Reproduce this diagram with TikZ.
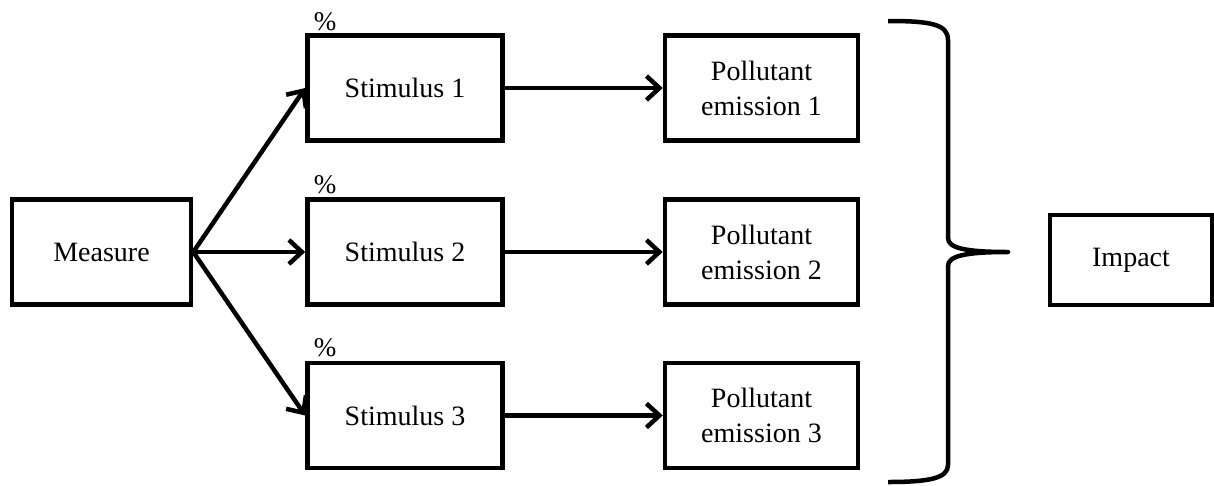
\documentclass[tikz,border=0pt]{standalone}
\usepackage{fontspec}
\setmainfont{Liberation Serif}
\usetikzlibrary{arrows.meta}
\begin{document}
\begin{tikzpicture}[x=1pt,y=-1pt,
  box/.style={draw, line width=4.5pt, align=center, inner sep=0pt,
    font=\fontsize{28}{35}\selectfont},
  conn/.style={line width=4.5pt, -{Straight Barb[length=13pt,width=24pt,line width=4.5pt]}},
  pct/.style={font=\fontsize{27}{30}\selectfont, inner sep=0pt}]
\useasboundingbox (0,0) rectangle (1214,485);
\node[box, minimum width=179pt, minimum height=105pt] (m) at (101.5,252) {Measure};
\node[box, minimum width=195pt, minimum height=105pt] (s1) at (405,88) {Stimulus 1};
\node[box, minimum width=195pt, minimum height=105pt] (s2) at (405,252) {Stimulus 2};
\node[box, minimum width=195pt, minimum height=105pt] (s3) at (405,415.5) {Stimulus 3};
\node[box, minimum width=193pt, minimum height=105pt] (p1) at (761.5,88) {Pollutant\\emission 1};
\node[box, minimum width=193pt, minimum height=105pt] (p2) at (761.5,252) {Pollutant\\emission 2};
\node[box, minimum width=193pt, minimum height=105pt] (p3) at (761.5,415.5) {Pollutant\\emission 3};
\node[box, minimum width=162pt, minimum height=90pt] (imp) at (1131,260) {Impact};
\node[pct] (c1) at (325,22) {\%};
\node[pct] (c2) at (325,185) {\%};
\node[pct] (c3) at (325,348) {\%};
\draw[conn] (m.east) -- (s1.west);
\draw[conn] (m.east) -- (s2.west);
\draw[conn] (m.east) -- (s3.west);
\draw[conn] (s1.east) -- (p1.west);
\draw[conn] (s2.east) -- (p2.west);
\draw[conn] (s3.east) -- (p3.west);
\draw[line width=4.5pt, line join=round]
  (888,21) .. controls (930,21) and (948,24) .. (948,40) -- (948,238)
  .. controls (948,248) and (965,252) .. (1008,252)
  .. controls (965,252) and (948,256) .. (948,266) -- (948,465)
  .. controls (948,478) and (930,482) .. (888,482);
\end{tikzpicture}
\end{document}
